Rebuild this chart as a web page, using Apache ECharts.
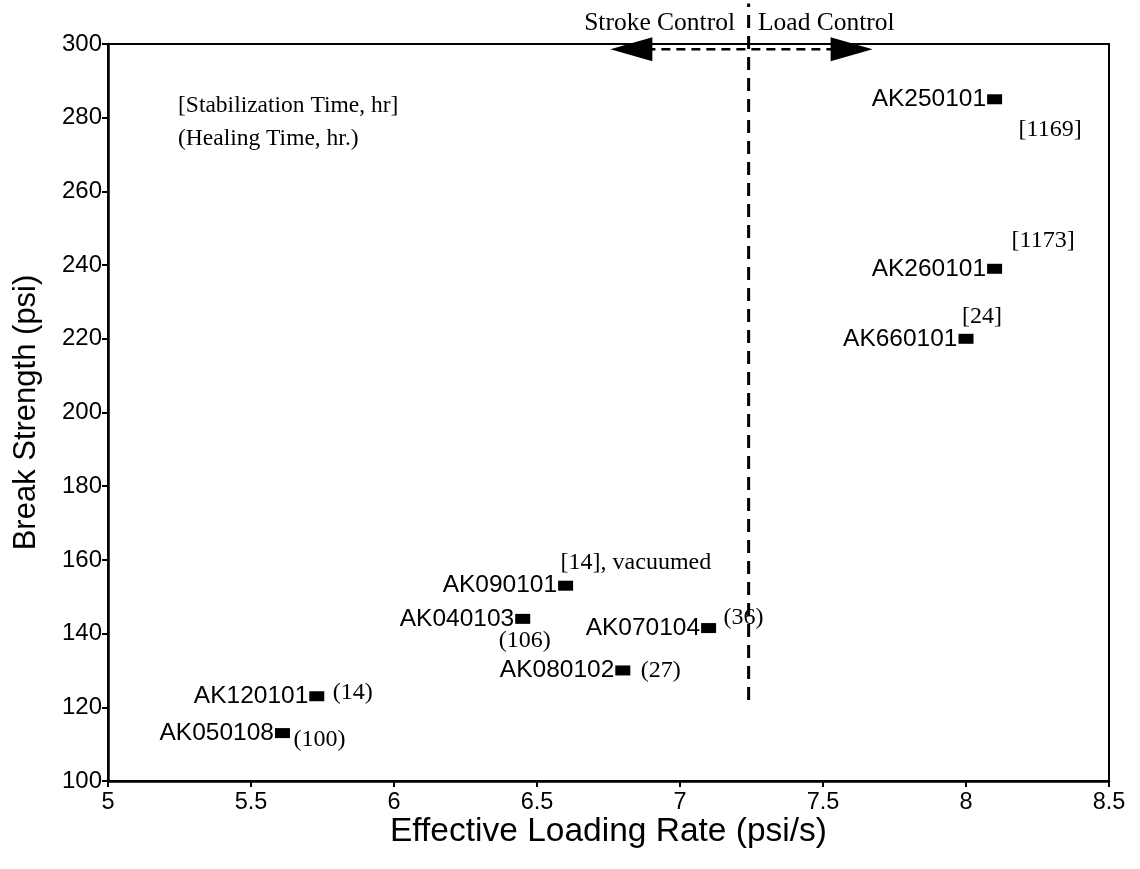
<!DOCTYPE html>
<html>
<head>
<meta charset="utf-8">
<title>Break Strength vs Effective Loading Rate</title>
<script src="https://cdn.jsdelivr.net/npm/echarts@6/dist/echarts.min.js"></script>
<style>
  html, body { margin: 0; padding: 0; background: #fff; }
  #chart { width: 1140px; height: 869px; }
</style>
</head>
<body>
<div id="chart"></div>
<script>
// Specimens: effective loading rate (psi/s) and break strength (psi)
const sampleIds = ['AK250101', 'AK260101', 'AK660101', 'AK090101', 'AK040103', 'AK070104', 'AK080102', 'AK120101', 'AK050108'];
const loadingRate = [8.1, 8.1, 8.0, 6.6, 6.45, 7.1, 6.8, 5.73, 5.61];
const breakStrength = [285, 239, 220, 153, 144, 141.5, 130, 123, 113];
// [stabilization time, hr] or (healing time, hr)
const timeNotes = ['[1169]', '[1173]', '[24]', '[14], vacuumed', '(106)', '(36)', '(27)', '(14)', '(100)'];

// Stroke / load control boundary and the arrow marking the two regimes
const boundaryRate = 7.24;
const boundarySpan = [122, 311];
const arrowRates = [6.83, 7.60];
const arrowLevel = 298.6;

// Axis ranges
const xRange = [5, 8.5, 0.5];
const yRange = [100, 300, 20];

const SANS = '"Liberation Sans", Arial, Helvetica, sans-serif';
const SERIF = '"Liberation Serif", "Times New Roman", Times, serif';

// where each note sits relative to its marker (left edge / vertical centre)
const noteOffsets = [[24, 30], [17, -28], [-4, -22], [-5, -23], [-24, 22], [15, -10], [18, 0], [16, -4], [11, 7]];

const points = sampleIds.map((id, i) => ({ name: id, value: [loadingRate[i], breakStrength[i]] }));
const notes = timeNotes.map((t, i) => ({
  name: t,
  value: [loadingRate[i], breakStrength[i]],
  label: { offset: noteOffsets[i] }
}));

const chart = echarts.init(document.getElementById('chart'), null, { renderer: 'canvas' });

chart.setOption({
  animation: false,
  backgroundColor: '#fff',
  grid: { left: 108, right: 31, top: 44, bottom: 88, show: true, borderColor: '#000', borderWidth: 2 },
  xAxis: {
    type: 'value', min: xRange[0], max: xRange[1], interval: xRange[2],
    name: 'Effective Loading Rate (psi/s)', nameLocation: 'middle', nameGap: 34, nameMoveOverlap: false,
    nameTextStyle: { fontFamily: SANS, fontSize: 33.5, color: '#000' },
    axisLine: { show: true, lineStyle: { color: '#000', width: 2.5 } },
    axisTick: { show: true, length: 6, lineStyle: { color: '#000', width: 2 } },
    axisLabel: { fontFamily: SANS, fontSize: 23.5, color: '#000', margin: 10 },
    splitLine: { show: false }
  },
  yAxis: {
    type: 'value', min: yRange[0], max: yRange[1], interval: yRange[2],
    name: 'Break Strength (psi)', nameLocation: 'middle', nameGap: 66, nameRotate: 90, nameMoveOverlap: false,
    nameTextStyle: { fontFamily: SANS, fontSize: 31, color: '#000' },
    axisLine: { show: true, lineStyle: { color: '#000', width: 2.5 } },
    axisTick: { show: true, length: 6, lineStyle: { color: '#000', width: 2 } },
    axisLabel: { fontFamily: SANS, fontSize: 24, color: '#000', margin: 6 },
    splitLine: { show: false }
  },
  series: [
    {
      name: 'control boundary', type: 'line', clip: false, symbol: 'none', silent: true,
      data: boundarySpan.map(v => [boundaryRate, v]),
      lineStyle: { color: '#000', width: 3, type: [13, 8] }, z: 2
    },
    {
      name: 'control arrow', type: 'line', clip: false, silent: true,
      data: [
        { value: [arrowRates[0], arrowLevel], symbolRotate: 90 },
        { value: [arrowRates[1], arrowLevel], symbolRotate: -90 }
      ],
      symbol: 'triangle', symbolSize: [24, 42], showAllSymbol: true,
      itemStyle: { color: '#000' },
      lineStyle: { color: '#000', width: 2.5, type: [9, 6] }, z: 3
    },
    {
      name: 'specimens', type: 'scatter', data: points,
      symbol: 'rect', symbolSize: [15, 10],
      itemStyle: { color: '#000', opacity: 1 },
      label: {
        show: true, position: 'left', distance: 1, formatter: '{b}',
        fontFamily: SANS, fontSize: 24.5, color: '#000'
      }, z: 4
    },
    {
      name: 'notes', type: 'scatter', data: notes, silent: true,
      symbol: 'rect', symbolSize: 1, itemStyle: { color: 'rgba(0,0,0,0)', opacity: 1 },
      label: {
        show: true, position: 'inside', align: 'left', verticalAlign: 'middle',
        formatter: '{b}', fontFamily: SERIF, fontSize: 24, color: '#000'
      }, z: 5
    }
  ],
  graphic: [
    { type: 'text', right: 1140 - 735, top: 10, style: { text: 'Stroke Control', font: '25.5px ' + SERIF, fill: '#000' } },
    { type: 'text', left: 758, top: 10, style: { text: 'Load Control', font: '25.5px ' + SERIF, fill: '#000' } },
    { type: 'text', left: 178, top: 94, style: { text: '[Stabilization Time, hr]', font: '23.5px ' + SERIF, fill: '#000' } },
    { type: 'text', left: 178, top: 127, style: { text: '(Healing Time, hr.)', font: '23.5px ' + SERIF, fill: '#000' } }
  ]
});
</script>
</body>
</html>
